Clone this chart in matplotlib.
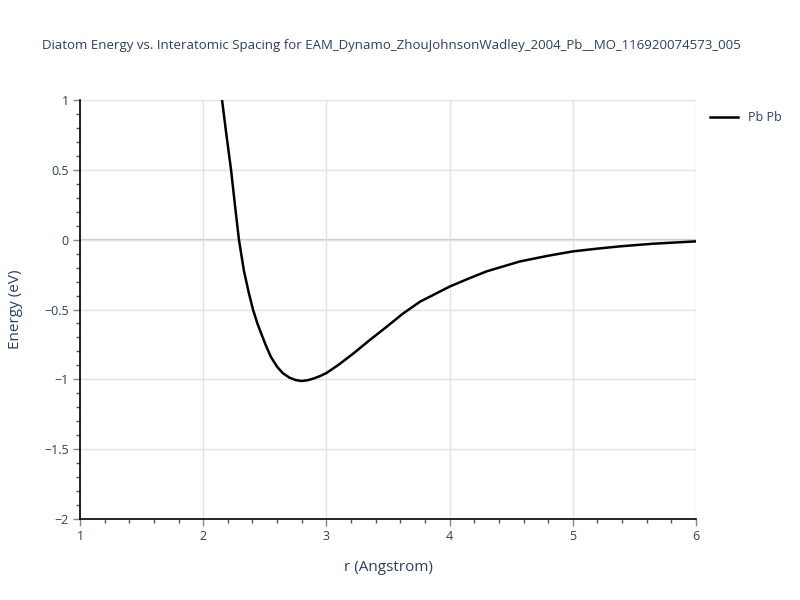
import matplotlib
matplotlib.use("Agg")
import matplotlib.pyplot as plt
from matplotlib.ticker import MultipleLocator

plt.rcParams['font.family'] = ['Open Sans', 'DejaVu Sans']

title = "Diatom Energy vs. Interatomic Spacing for EAM_Dynamo_ZhouJohnsonWadley_2004_Pb__MO_116920074573_005"
series_name = "Pb Pb"
r = [2.13, 2.153, 2.19, 2.226, 2.26, 2.29, 2.33, 2.37, 2.404, 2.44, 2.47, 2.51, 2.55, 2.60,
     2.645, 2.70, 2.75, 2.80, 2.85, 2.90, 2.95, 3.0, 3.1, 3.22, 3.35, 3.49, 3.62, 3.76,
     4.0, 4.15, 4.30, 4.57, 4.8, 5.0, 5.2, 5.38, 5.65, 6.0]
E = [1.17, 1.0, 0.74, 0.5, 0.23, 0.0, -0.22, -0.38, -0.5, -0.6, -0.67, -0.76, -0.84, -0.91,
     -0.955, -0.988, -1.005, -1.012, -1.006, -0.993, -0.976, -0.955, -0.895, -0.814,
     -0.72, -0.623, -0.53, -0.444, -0.336, -0.28, -0.227, -0.156, -0.115, -0.084,
     -0.064, -0.048, -0.029, -0.012]
x_ticks = [1, 2, 3, 4, 5, 6]
y_ticks = [1, 0.5, 0, -0.5, -1, -1.5, -2]
y_tick_labels = ["1", "0.5", "0", "\u22120.5", "\u22121", "\u22121.5", "\u22122"]

txt = '#2a3f5f'
fig = plt.figure(figsize=(8, 6), dpi=100)
ax = fig.add_axes([0.1, 0.135, 0.77, 0.6983])
ax.plot(r, E, color='black', lw=1.8, label=series_name, clip_on=True, zorder=3)
ax.set_xlim(1, 6)
ax.set_ylim(-2, 1)
ax.set_xticks(x_ticks)
ax.set_yticks(y_ticks)
ax.set_yticklabels(y_tick_labels)
ax.xaxis.set_minor_locator(MultipleLocator(0.2))
ax.yaxis.set_minor_locator(MultipleLocator(0.1))
ax.grid(True, which='major', color='#e2e2e2', lw=1)
ax.axhline(0, color='#c8c8c8', lw=1.5, zorder=1)
for s in ['top', 'right']:
    ax.spines[s].set_visible(False)
for s in ['left', 'bottom']:
    ax.spines[s].set_color('black')
    ax.spines[s].set_linewidth(1.2)
ax.tick_params(which='major', direction='out', length=5, width=1, color='#888888',
               labelcolor=txt, labelsize=9, pad=3)
ax.tick_params(which='minor', direction='out', length=3, width=1, color='#555555')
ax.set_xlabel("r (Angstrom)", color=txt, fontsize=11, labelpad=12)
ax.set_ylabel("Energy (eV)", color=txt, fontsize=11, labelpad=15)
fig.text(391/800, 1-45/600, title, color=txt, fontsize=9.5, ha='center', va='center')
leg = ax.legend(loc='upper left', bbox_to_anchor=(1.005, 1.0), frameon=False,
                fontsize=9, handlelength=2.2, labelcolor=txt)
fig.savefig("out.png", dpi=100)
